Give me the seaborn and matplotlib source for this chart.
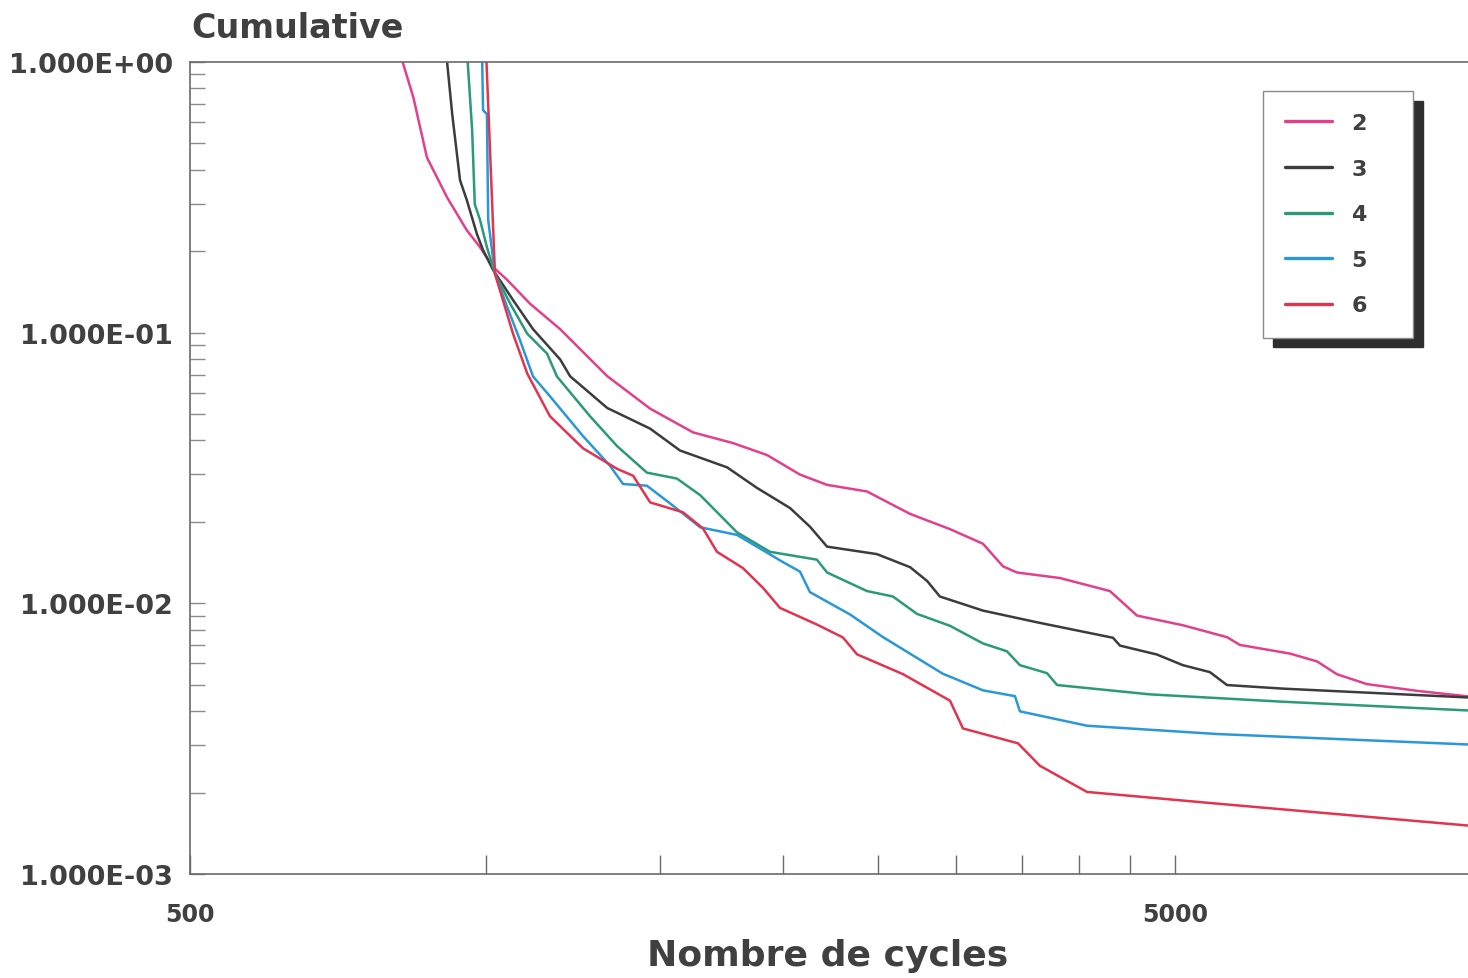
import numpy as np
import pandas as pd
import matplotlib
matplotlib.use("Agg")
import matplotlib.pyplot as plt
import matplotlib.ticker as mticker
import seaborn as sns

# ---- data ----
series_names = ["2", "3", "4", "5", "6"]

x_2 = [822, 843, 870, 912, 955, 985, 1015, 1049, 1107, 1188, 1326, 1466, 1621, 1779, 1927,
       2081, 2217, 2434, 2692, 2955, 3192, 3345, 3456, 3822, 4295, 4576, 5093, 5647, 5820,
       6544, 6971, 7303, 7832, 8806, 9920]
y_2 = [1.0, 0.738, 0.444, 0.316, 0.239, 0.207, 0.175, 0.157, 0.128, 0.103, 0.0691, 0.0524,
       0.0428, 0.0391, 0.0353, 0.0299, 0.0274, 0.0259, 0.0214, 0.0188, 0.0166, 0.0137, 0.0130,
       0.0124, 0.0111, 0.00901, 0.00830, 0.00750, 0.00702, 0.00652, 0.00610, 0.00547, 0.00503,
       0.00475, 0.00453]

x_3 = [912, 923, 940, 955, 978, 992, 1015, 1064, 1115, 1188, 1216, 1326, 1466, 1572, 1755,
       1882, 2033, 2130, 2217, 2491, 2692, 2801, 2886, 3192, 3622, 4326, 4397, 4794, 5093,
       5426, 5647, 6437, 9920]
y_3 = [1.0, 0.641, 0.366, 0.309, 0.231, 0.202, 0.171, 0.132, 0.103, 0.0796, 0.0690, 0.0527,
       0.0442, 0.0367, 0.0318, 0.0267, 0.0225, 0.0192, 0.0162, 0.0152, 0.0136, 0.0121, 0.0106,
       0.00940, 0.00851, 0.00746, 0.00698, 0.00647, 0.00591, 0.00557, 0.00499, 0.00484, 0.00449]

x_4 = [957, 967, 973, 985, 1001, 1020, 1057, 1100, 1152, 1179, 1274, 1357, 1455, 1561, 1648,
       1796, 1940, 2165, 2217, 2434, 2586, 2736, 2955, 3192, 3376, 3480, 3708, 3796, 4716,
       6437, 9920]
y_4 = [1.0, 0.560, 0.298, 0.261, 0.207, 0.165, 0.128, 0.0991, 0.0837, 0.0689, 0.0491, 0.0381,
       0.0304, 0.0289, 0.0251, 0.0183, 0.0155, 0.0145, 0.0130, 0.0111, 0.0106, 0.00914, 0.00826,
       0.00711, 0.00665, 0.00591, 0.00552, 0.00499, 0.00461, 0.00433, 0.00402]

x_5 = [990, 992, 1001, 1004, 1020, 1049, 1081, 1115, 1160, 1253, 1335, 1376, 1455, 1536, 1648,
       1796, 2000, 2081, 2130, 2339, 2527, 2907, 2955, 3192, 3440, 3480, 4071, 5515, 9920]
y_5 = [1.0, 0.664, 0.642, 0.261, 0.165, 0.125, 0.0942, 0.0689, 0.0582, 0.0415, 0.0322, 0.0276,
       0.0272, 0.0234, 0.0191, 0.0179, 0.0142, 0.0131, 0.0110, 0.00910, 0.00750, 0.00549,
       0.00536, 0.00477, 0.00454, 0.00399, 0.00353, 0.00329, 0.00301]

x_6 = [1000, 1008, 1020, 1039, 1064, 1100, 1160, 1253, 1357, 1409, 1466, 1583, 1659, 1714, 1821,
       1909, 1986, 2165, 2301, 2378, 2646, 2955, 3046, 3464, 3647, 4071, 5515, 9920]
y_6 = [1.0, 0.485, 0.165, 0.132, 0.0991, 0.0706, 0.0491, 0.0374, 0.0314, 0.0296, 0.0236, 0.0217,
       0.0189, 0.0155, 0.0135, 0.0114, 0.00962, 0.00835, 0.00748, 0.00648, 0.00548, 0.00437,
       0.00345, 0.00304, 0.00251, 0.00201, 0.00182, 0.00151]

y_tick_values = [1.0, 0.1, 0.01, 0.001]
y_tick_labels = ["1.000E+00", "1.000E-01", "1.000E-02", "1.000E-03"]
x_tick_values = [500, 1000, 1500, 2000, 2500, 3000, 3500, 4000, 4500, 5000]
x_tick_labels = ["500", "", "", "", "", "", "", "", "", "5000"]

title_text = "Cumulative"
xlabel_text = "Nombre de cycles"

# ---- build long table ----
xs = [x_2, x_3, x_4, x_5, x_6]
ys = [y_2, y_3, y_4, y_5, y_6]
frames = [pd.DataFrame({"cycles": x, "cum": y, "serie": n}) for n, x, y in zip(series_names, xs, ys)]
df = pd.concat(frames, ignore_index=True)

palette = {"2": "#e2408c", "3": "#3c3c3c", "4": "#2a9a78", "5": "#2a98d8", "6": "#e2344e"}

sns.set_theme(style="white")
plt.rcParams["font.family"] = ["DejaVu Sans"]
text_color = "#404040"

fig = plt.figure(figsize=(14.68, 9.79), dpi=100)
ax = fig.add_axes([190 / 1468, 1 - 875 / 979, 1 - 190 / 1468, (875 - 63) / 979])

sns.lineplot(data=df, x="cycles", y="cum", hue="serie", palette=palette,
             estimator=None, sort=False, linewidth=1.8, ax=ax)

ax.set_xscale("log")
ax.set_yscale("log")
ax.set_xlim(500, 9920)
ax.set_ylim(0.001, 1.0)

for s in ["left", "bottom", "top"]:
    ax.spines[s].set_color("#6a6a6a")
    ax.spines[s].set_linewidth(1.2)
ax.spines["right"].set_visible(False)

ax.xaxis.set_major_locator(mticker.FixedLocator(x_tick_values))
ax.xaxis.set_major_formatter(mticker.FixedFormatter(x_tick_labels))
ax.xaxis.set_minor_locator(mticker.NullLocator())
ax.yaxis.set_major_locator(mticker.FixedLocator(y_tick_values))
ax.yaxis.set_major_formatter(mticker.FixedFormatter(y_tick_labels))
ax.yaxis.set_minor_locator(mticker.LogLocator(base=10, subs=range(2, 10)))
ax.yaxis.set_minor_formatter(mticker.NullFormatter())

ax.tick_params(axis="x", which="major", direction="in", length=14, width=1.0,
               color="#6a6a6a", pad=20, labelsize=17, labelcolor=text_color)
ax.tick_params(axis="y", which="both", direction="in", length=11, width=1.0,
               color="#8a8a8a", left=True)
ax.tick_params(axis="y", which="major", pad=12, labelsize=19.5, labelcolor=text_color)
ax.tick_params(axis="x", which="both", bottom=True, top=False)
for lab in ax.get_xticklabels() + ax.get_yticklabels():
    lab.set_fontweight("bold")
ax.set_xlabel("")
ax.set_ylabel("")

fig.text(191 / 1468, 1 - 38 / 979, title_text, ha="left", va="baseline",
         fontsize=24, fontweight="bold", color=text_color)
fig.text(828 / 1468, 1 - 966 / 979, xlabel_text, ha="center", va="baseline",
         fontsize=26, fontweight="bold", color=text_color)

handles, labels = ax.get_legend_handles_labels()
leg = ax.legend(handles, [l + "   " for l in labels], loc="upper right",
                bbox_to_anchor=(1413 / 1468, 1 - 92 / 979), bbox_transform=fig.transFigure,
                borderaxespad=0, frameon=True, fancybox=False,
                shadow={"ox": 7, "oy": -7, "color": "#2e2e2e", "alpha": 1.0},
                prop={"size": 16, "weight": "bold"},
                handlelength=2.1, handletextpad=0.9, labelspacing=1.15,
                borderpad=1.0)
leg.get_frame().set_edgecolor("#8a8a8a")
leg.get_frame().set_linewidth(1.0)
leg.get_frame().set_facecolor("white")
for t in leg.get_texts():
    t.set_color(text_color)
for l in leg.get_lines():
    l.set_linewidth(2.4)

fig.savefig("out.png", dpi=100)
